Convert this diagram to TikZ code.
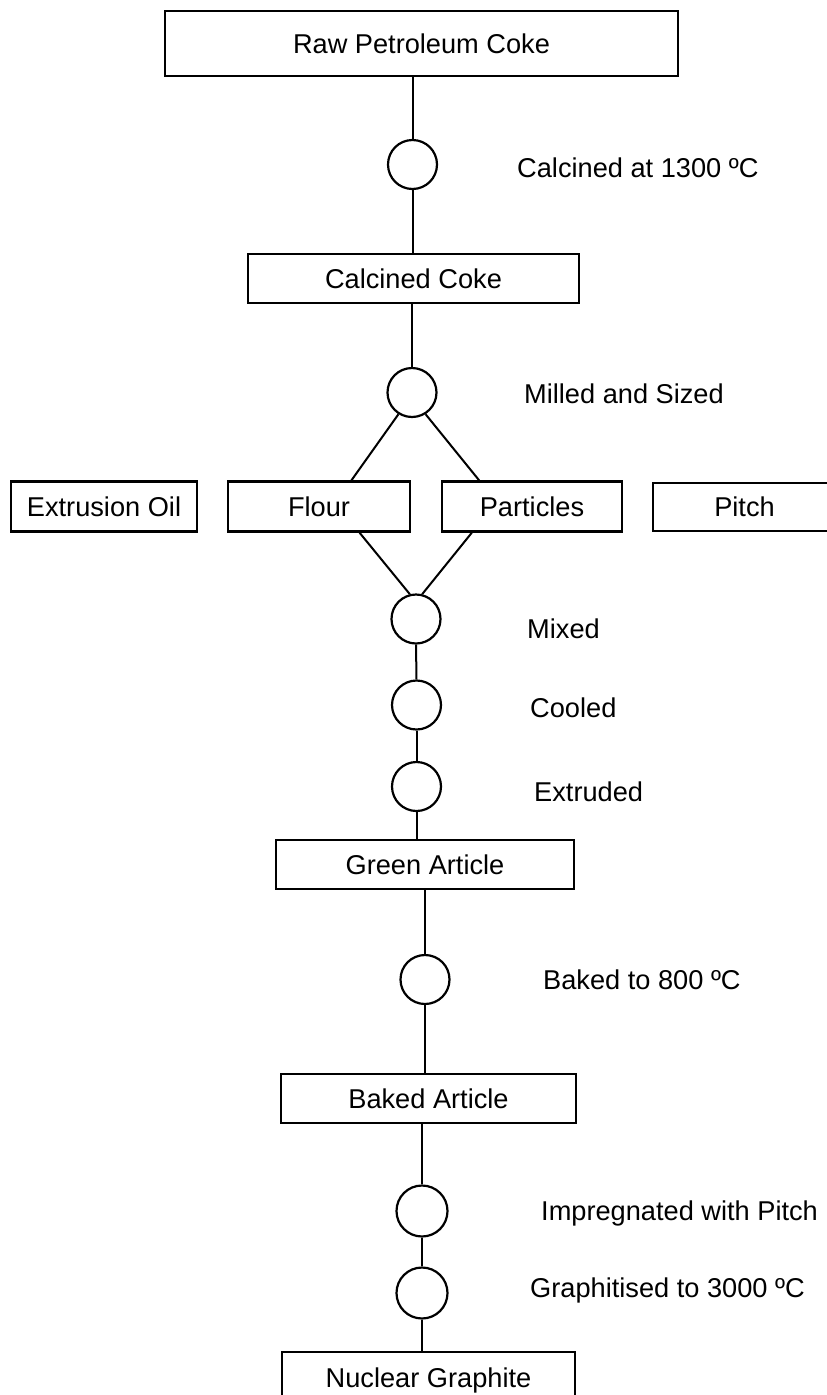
\documentclass[tikz,border=0pt]{standalone}
\usepackage{fontspec}
\setmainfont{Liberation Sans}
\usetikzlibrary{calc}
\begin{document}
\begin{tikzpicture}[x=1pt,y=-1pt,
  txt/.style={font=\fontsize{27.2}{31}\selectfont},
  box/.style={draw, line width=2.4pt, minimum height=49pt, inner sep=0pt, txt},
  proc/.style={circle, draw, line width=2.2pt, minimum size=49pt, inner sep=0pt},
  lbl/.style={anchor=west, inner sep=0pt, txt},
  conn/.style={line width=2pt}]
\useasboundingbox (0,0) rectangle (827,1395);
\fill[white] (0,0) rectangle (827,1395);
% boxes
\node[box, minimum width=513pt, minimum height=65pt] (raw) at (421.5,43.5) {Raw Petroleum Coke};
\node[box, minimum width=331pt] (calc) at (413.5,278.5) {Calcined Coke};
\node[box, minimum width=186pt, minimum height=50pt] (oil) at (104,506.5) {Extrusion Oil};
\node[box, minimum width=182pt, minimum height=50pt] (flour) at (319,506.5) {Flour};
\node[box, minimum width=180pt, minimum height=50pt] (particles) at (532,506.5) {Particles};
\node[box, minimum width=183pt, minimum height=48pt] (pitch) at (744.5,507) {Pitch};
\node[box, minimum width=298pt] (green) at (425,864.5) {Green Article};
\node[box, minimum width=295pt] (baked) at (428.5,1098.5) {Baked Article};
\node[box, anchor=north, minimum width=293pt, minimum height=0pt, inner ysep=9pt, text height=26pt, text depth=40pt] (nuclear) at (428.5,1351) {Nuclear Graphite};
% process circles
\node[proc] (c1) at (412.5,164.5) {};
\node[proc] (c2) at (412,392.5) {};
\node[proc] (c3) at (416,619) {};
\node[proc] (c4) at (416.5,705) {};
\node[proc] (c5) at (416.5,786.5) {};
\node[proc] (c6) at (425,979.5) {};
\node[proc, minimum size=51pt] (c7) at (422,1211) {};
\node[proc, minimum size=51pt] (c8) at (422,1293) {};
% labels
\node[lbl] (l1) at (517,168) {Calcined at 1300 ºC};
\node[lbl] (l2) at (524,394) {Milled and Sized};
\node[lbl] (l3) at (527,629) {Mixed};
\node[lbl] (l4) at (530,708) {Cooled};
\node[lbl] (l5) at (534,792) {Extruded};
\node[lbl] (l6) at (543,980) {Baked to 800 ºC};
\node[lbl] (l7) at (541,1213) {Impregnated with Pitch};
\node[lbl] (l8) at (530,1290) {Graphitised to 3000 ºC};
% connectors
\draw[conn] (raw.south -| c1) -- (c1.north);
\draw[conn] (c1.south) -- (c1.south |- calc.north);
\draw[conn] (calc.south -| c2) -- (c2.north);
\draw[conn] (c2.238) -- ($(flour.north west)!0.676!(flour.north east)$);
\draw[conn] (c2.302) -- ($(particles.north west)!0.21!(particles.north east)$);
\draw[conn] ($(flour.south west)!0.72!(flour.south east)$) -- (c3.104);
\draw[conn] ($(particles.south west)!0.17!(particles.south east)$) -- (c3.76);
\draw[conn] (c3.south) -- (c4.north);
\draw[conn] (c4.south) -- (c5.north);
\draw[conn] (c5.south) -- (c5.south |- green.north);
\draw[conn] (green.south -| c6) -- (c6.north);
\draw[conn] (c6.south) -- (c6.south |- baked.north);
\draw[conn] (baked.south -| c7) -- (c7.north);
\draw[conn] (c7.south) -- (c8.north);
\draw[conn] (c8.south) -- (c8.south |- nuclear.north);
\end{tikzpicture}
\end{document}
